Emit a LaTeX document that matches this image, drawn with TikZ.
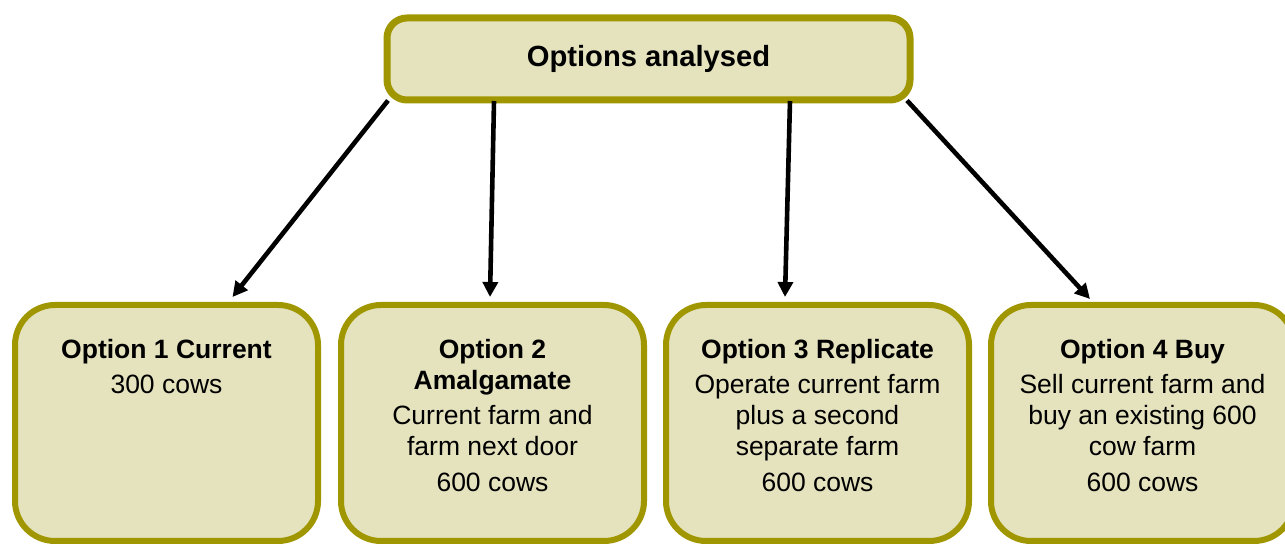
\documentclass[tikz,border=0pt]{standalone}
\usepackage{fontspec}
\setmainfont{Liberation Sans}
\usetikzlibrary{arrows.meta,calc}
\definecolor{boxfill}{RGB}{229,226,190}
\definecolor{boxline}{RGB}{160,151,0}
\tikzset{
  topbox/.style={draw=boxline, fill=boxfill, line width=3.5pt, rounded corners=10pt,
    minimum width=261.5pt, minimum height=41pt, inner sep=0pt,
    font=\fontsize{14.6}{17}\selectfont\bfseries},
  optbox/.style={draw=boxline, fill=boxfill, line width=3pt, rounded corners=20pt,
    minimum width=151.5pt, minimum height=118pt, inner sep=0pt},
  opttext/.style={anchor=north, inner sep=0pt, align=center,
    font=\fontsize{13.25}{15.5}\selectfont},
  conn/.style={line width=2.3pt, -{Triangle[length=7.5pt,width=7.5pt]}}
}
\begin{document}
\begin{tikzpicture}[x=0.5pt,y=-0.5pt]
\useasboundingbox (0,0) rectangle (1285,544);
\clip (0,0) rectangle (1285,544);
\node[topbox] (top) at (648.5,59) {Options analysed};
\node[optbox] (b1) at (166.5,423) {};
\node[optbox] (b2) at (492.5,423) {};
\node[optbox] (b3) at (817.5,423) {};
\node[optbox] (b4) at (1142.5,423) {};
\node[opttext] (t1) at (166.5,339) {\textbf{Option 1 Current}\\[2pt] 300 cows};
\node[opttext] (t2) at (492.5,339) {\textbf{Option 2}\\ \textbf{Amalgamate}\\[2pt] Current farm and\\ farm next door\\[2.5pt] 600 cows};
\node[opttext] (t3) at (817.5,339) {\textbf{Option 3 Replicate}\\[2pt] Operate current farm\\ plus a second\\ separate farm\\[2.5pt] 600 cows};
\node[opttext] (t4) at (1142.5,339) {\textbf{Option 4 Buy}\\[2pt] Sell current farm and\\ buy an existing 600\\ cow farm\\[2.5pt] 600 cows};
\draw[conn] ($(top.south west)+(4.5,-3)$) -- ($(b1.north)+(66,-5)$);
\draw[conn] ($(top.south west)+(110.5,-2.5)$) -- ($(b2.north)+(-2.5,-5)$);
\draw[conn] ($(top.south west)+(406.5,-2.5)$) -- ($(b3.north)+(-32.5,-5)$);
\draw[conn] ($(top.south east)+(-6.5,-3)$) -- ($(b4.north)+(-52.5,-3)$);
\end{tikzpicture}
\end{document}
